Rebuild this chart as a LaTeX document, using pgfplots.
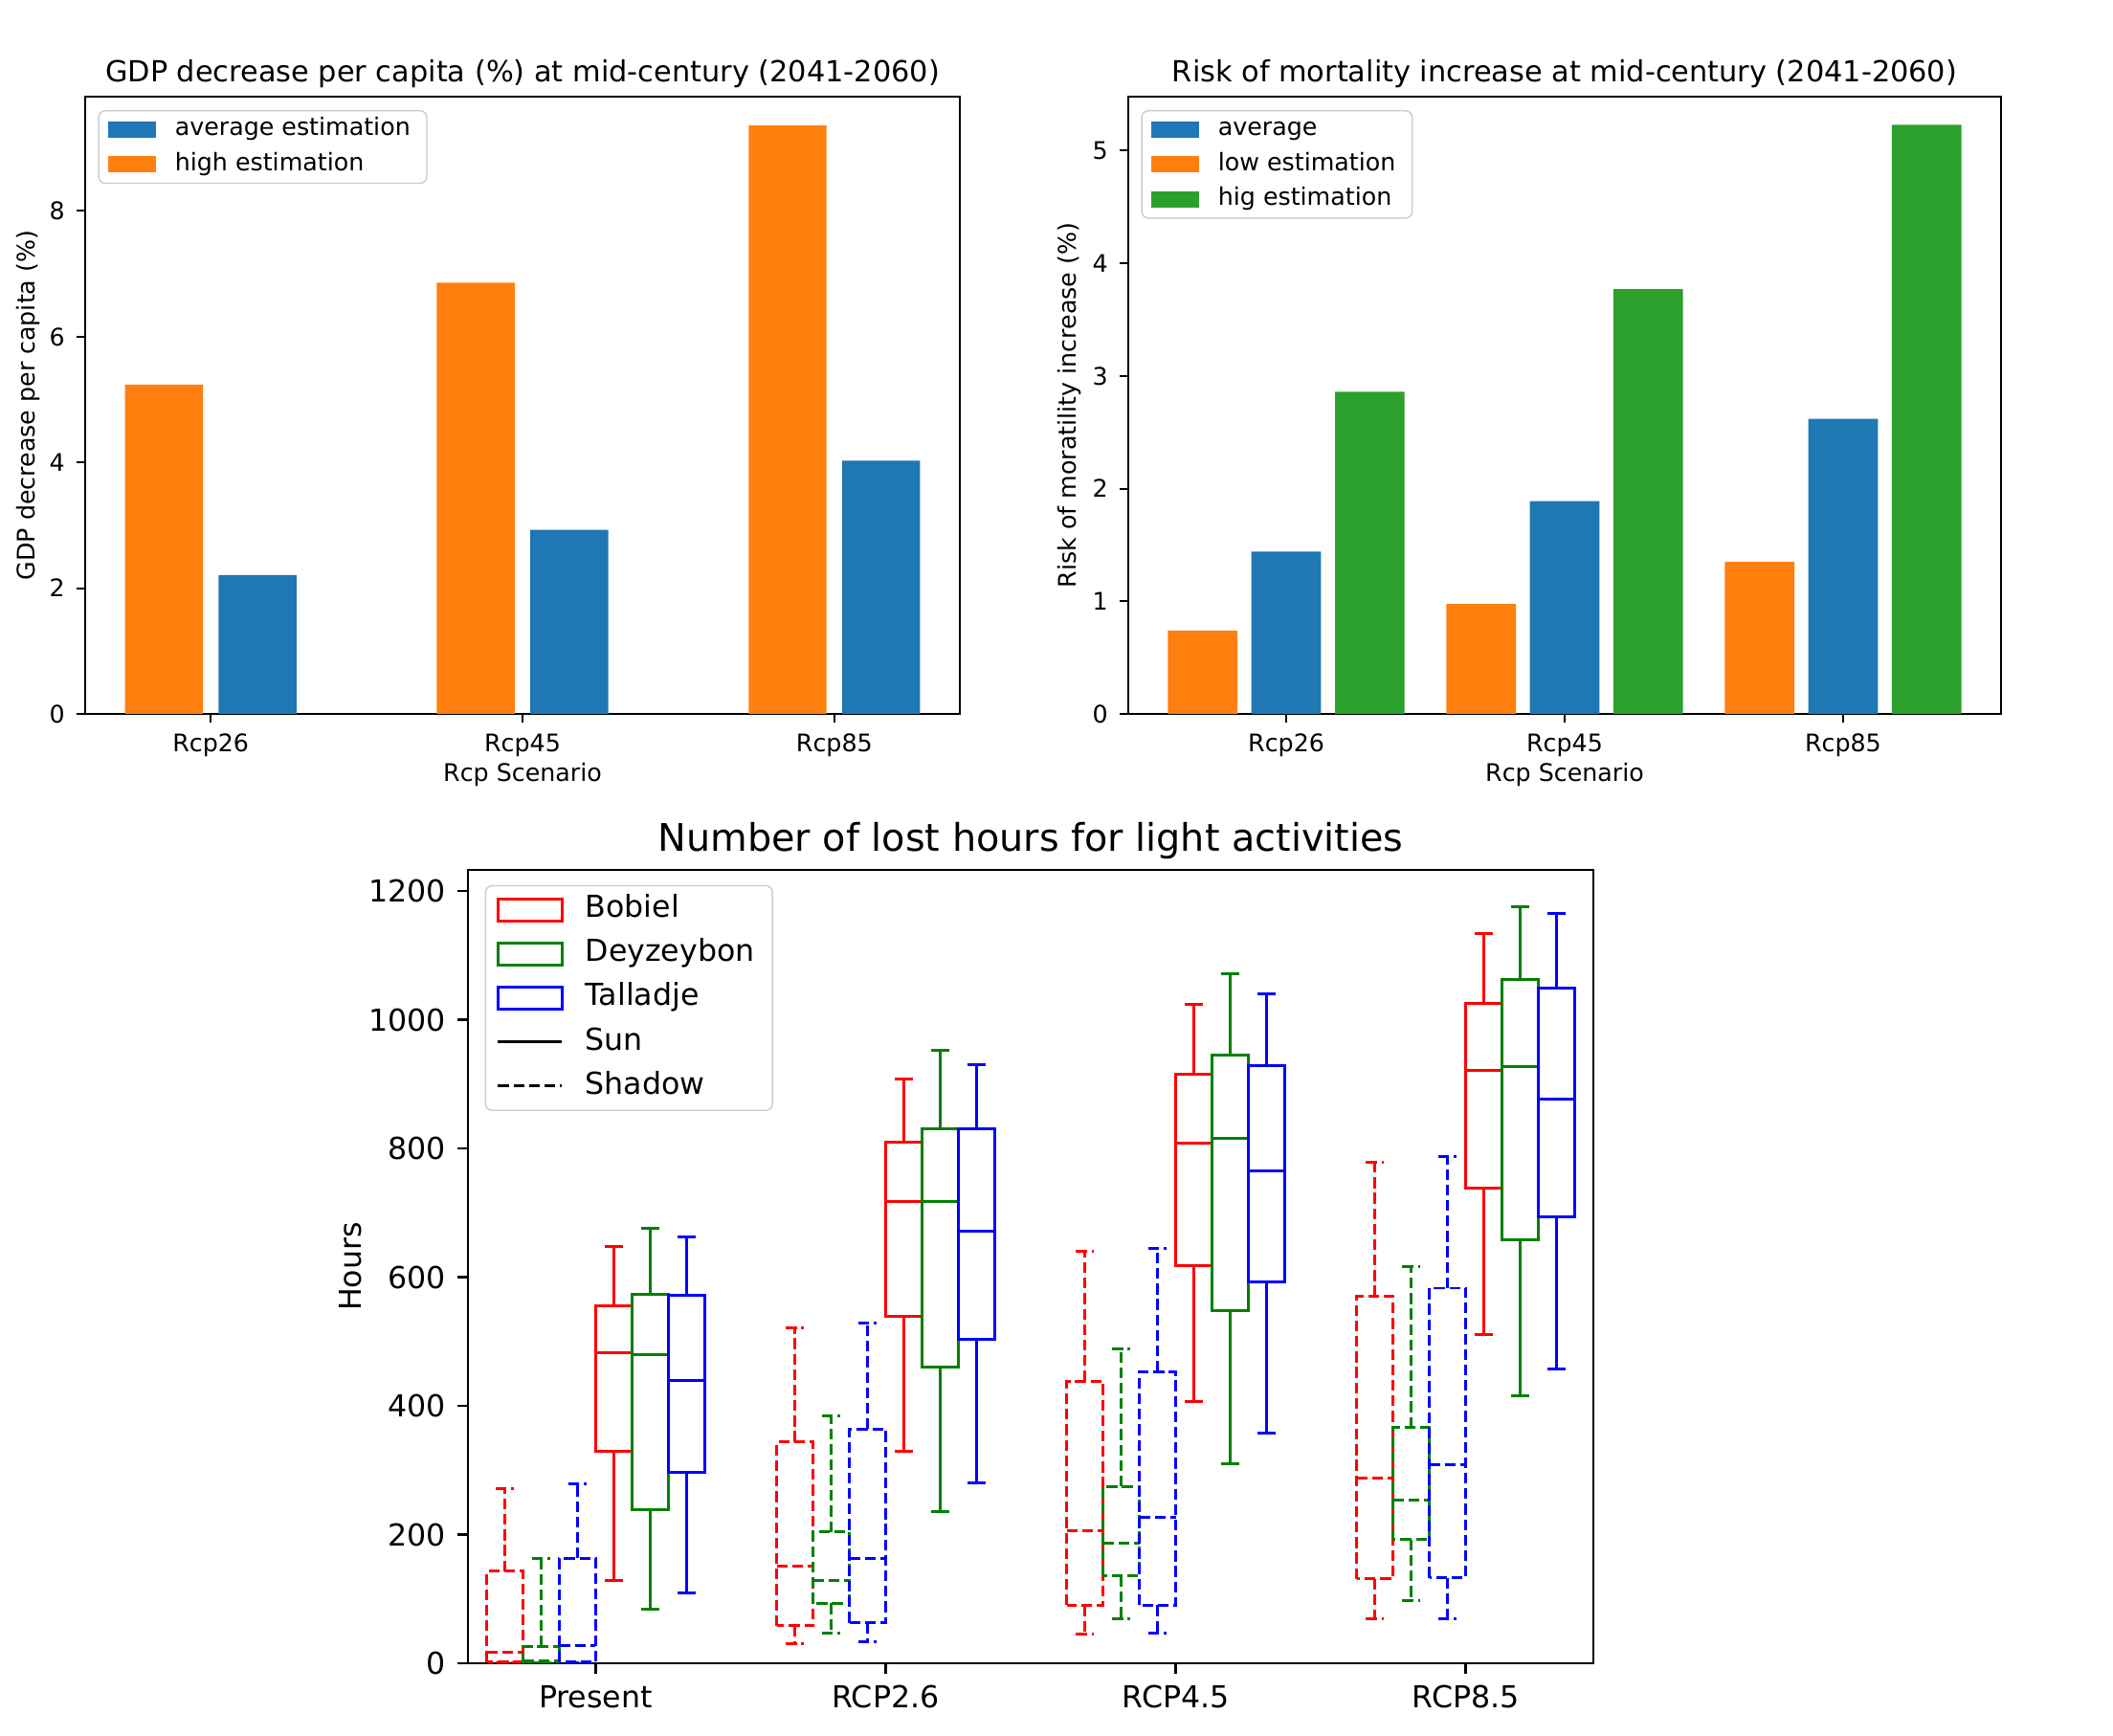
\documentclass[border=0pt]{standalone}
\usepackage{fontspec}
\setmainfont{DejaVu Sans}
\usepackage{pgfplots}
\pgfplotsset{compat=1.18}
\usepgfplotslibrary{statistics}
\definecolor{tabblue}{HTML}{1F77B4}
\definecolor{taborange}{HTML}{FF7F0E}
\definecolor{tabgreen}{HTML}{2CA02C}
\definecolor{mred}{HTML}{FF0000}
\definecolor{mgreen}{HTML}{008000}
\definecolor{mblue}{HTML}{0000FF}
\newcommand{\fsmall}{\fontsize{7.2}{8.6}\selectfont}
\newcommand{\fsmalltitle}{\fontsize{8.64}{10}\selectfont}
\newcommand{\fbig}{\fontsize{9}{10.8}\selectfont}
\newcommand{\fbigtitle}{\fontsize{11.3}{13}\selectfont}
\newcommand{\patch}[1]{\fill[#1, fill opacity=1, draw=none, sharp corners] (0pt,-2.45pt) rectangle (14.2pt,2.45pt); \node[inner sep=0pt, minimum size=0pt, draw=none, fill=none] at (17.6pt,0pt) {};}
\newcommand{\boxpatch}[1]{\draw[#1, draw opacity=1, line width=0.85pt, sharp corners, solid, fill=none] (0pt,-3.2pt) rectangle (19pt,3.2pt); \node[inner sep=0pt, minimum size=0pt, draw=none, fill=none] at (23.8pt,0pt) {};}
\pgfplotsset{
  topstyle/.style={
    anchor=south west, scale only axis,
    height=6.45cm, ymin=0,
    xtick={0,1,2}, xticklabels={Rcp26,Rcp45,Rcp85},
    tick align=outside, tick pos=left, major tick length=2.5pt,
    axis line style={line width=0.57pt},
    every tick/.style={black, line width=0.57pt},
    tick label style={font=\fsmall},
    label style={font=\fsmall},
    title style={font=\fsmalltitle, yshift=-6.8pt},
    xlabel style={yshift=5.2pt},
    /pgf/number format/assume math mode=true,
    xlabel={Rcp Scenario},
    legend cell align=left,
    legend style={at={(0,1)}, anchor=north west, xshift=3.8pt, yshift=-4pt,
      draw=black!20, rounded corners=2pt, fill=white, fill opacity=0.8, text opacity=1,
      font=\fsmall, inner xsep=2.9pt, inner ysep=2pt, row sep=3.16pt,
      nodes={inner ysep=0pt, text height=5.4pt, text depth=1.8pt}},
  },
}
\begin{document}
\begin{tikzpicture}
\useasboundingbox (0,0) rectangle (22.08cm,18.14cm);

% ---------------- top left ----------------
\begin{axis}[topstyle,
  at={(0.89cm,10.68cm)}, width=9.14cm,
  xmin=-0.4025, xmax=2.4025, ymax=9.82,
  ytick={0,2,4,6,8},
  title={GDP decrease per capita (\%) at mid-century (2041-2060)},
  ylabel={GDP decrease per capita (\%)},
  ylabel style={yshift=-4pt},
]
\addlegendimage{legend image code/.code={\patch{tabblue}}}
\addlegendentry{average estimation}
\addlegendimage{legend image code/.code={\patch{taborange}}}
\addlegendentry{high estimation}
\addplot[ybar, bar width=0.25, bar shift=0pt, fill=tabblue, draw=none, forget plot]
  coordinates {(0.15,2.21) (1.15,2.93) (2.15,4.03)};
\addplot[ybar, bar width=0.25, bar shift=0pt, fill=taborange, draw=none, forget plot]
  coordinates {(-0.15,5.24) (0.85,6.86) (1.85,9.36)};
\end{axis}

% ---------------- top right ----------------
\begin{axis}[topstyle,
  at={(11.79cm,10.68cm)}, width=9.12cm,
  xmin=-0.5675, xmax=2.5675, ymax=5.48,
  ytick={0,1,2,3,4,5},
  title={Risk of mortality increase at mid-century (2041-2060)},
  ylabel={Risk of moratility increase (\%)},
  ylabel style={yshift=-3.6pt},
]
\addlegendimage{legend image code/.code={\patch{tabblue}}}
\addlegendentry{average}
\addlegendimage{legend image code/.code={\patch{taborange}}}
\addlegendentry{low estimation}
\addlegendimage{legend image code/.code={\patch{tabgreen}}}
\addlegendentry{hig estimation}
\addplot[ybar, bar width=0.25, bar shift=0pt, fill=tabblue, draw=none, forget plot]
  coordinates {(0,1.44) (1,1.89) (2,2.62)};
\addplot[ybar, bar width=0.25, bar shift=0pt, fill=taborange, draw=none, forget plot]
  coordinates {(-0.3,0.74) (0.7,0.975) (1.7,1.35)};
\addplot[ybar, bar width=0.25, bar shift=0pt, fill=tabgreen, draw=none, forget plot]
  coordinates {(0.3,2.86) (1.3,3.77) (2.3,5.23)};
\end{axis}

% ---------------- bottom ----------------
\begin{axis}[
  at={(4.89cm,0.76cm)}, anchor=south west, scale only axis,
  width=11.76cm, height=8.29cm,
  xmin=-0.44, xmax=3.44, ymin=0, ymax=1233,
  xtick={0,1,2,3}, xticklabels={Present,RCP2.6,RCP4.5,RCP8.5},
  ytick={0,200,400,600,800,1000,1200},
  tick align=outside, tick pos=left, major tick length=3.1pt,
  axis line style={line width=0.7pt},
  every tick/.style={black, line width=0.7pt},
  tick label style={font=\fbig},
  label style={font=\fbig},
  title style={font=\fbigtitle, yshift=-6.4pt},
  ylabel style={yshift=-4.8pt},
  /pgf/number format/assume math mode=true,
  /pgf/number format/1000 sep={},
  title={Number of lost hours for light activities},
  ylabel={Hours},
  boxplot/draw direction=y,
  boxplot/box extend=0.125,
  boxplot/whisker extend=0.0625,
  sun/.style={line width=0.85pt, solid, forget plot},
  shd/.style={line width=0.85pt, dash pattern=on 3.2pt off 1.4pt, forget plot},
  legend cell align=left,
  legend style={at={(0,1)}, anchor=north west, xshift=5pt, yshift=-4.5pt,
    draw=black!20, rounded corners=2pt, fill=white, fill opacity=0.8, text opacity=1,
    font=\fbig, inner xsep=3.3pt, inner ysep=2.7pt, row sep=4.1pt,
    nodes={inner ysep=0pt, text height=6.8pt, text depth=2.2pt}},
]
\addlegendimage{legend image code/.code={\boxpatch{mred}}}
\addlegendentry{Bobiel}
\addlegendimage{legend image code/.code={\boxpatch{mgreen}}}
\addlegendentry{Deyzeybon}
\addlegendimage{legend image code/.code={\boxpatch{mblue}}}
\addlegendentry{Talladje}
\addlegendimage{legend image code/.code={\draw[black, draw opacity=1, line width=0.85pt, solid] (0pt,0pt) -- (19pt,0pt); \node[inner sep=0pt, minimum size=0pt, draw=none, fill=none] at (23.8pt,0pt) {};}}
\addlegendentry{Sun}
\addlegendimage{legend image code/.code={\draw[black, draw opacity=1, line width=0.85pt, dash pattern=on 3.2pt off 1.4pt] (0pt,0pt) -- (19pt,0pt); \node[inner sep=0pt, minimum size=0pt, draw=none, fill=none] at (23.8pt,0pt) {};}}
\addlegendentry{Shadow}

% Present
\addplot[mred, shd, boxplot prepared={draw position=-0.3125, lower whisker=0, lower quartile=2, median=17, upper quartile=143, upper whisker=272}] coordinates {};
\addplot[mgreen, shd, boxplot prepared={draw position=-0.1875, lower whisker=0, lower quartile=0, median=3, upper quartile=26, upper whisker=163}] coordinates {};
\addplot[mblue, shd, boxplot prepared={draw position=-0.0625, lower whisker=0, lower quartile=2, median=27, upper quartile=163, upper whisker=279}] coordinates {};
\addplot[mred, sun, boxplot prepared={draw position=0.0625, lower whisker=128, lower quartile=330, median=483, upper quartile=556, upper whisker=648}] coordinates {};
\addplot[mgreen, sun, boxplot prepared={draw position=0.1875, lower whisker=84, lower quartile=238, median=480, upper quartile=574, upper whisker=676}] coordinates {};
\addplot[mblue, sun, boxplot prepared={draw position=0.3125, lower whisker=109, lower quartile=297, median=439, upper quartile=572, upper whisker=662}] coordinates {};
% RCP2.6
\addplot[mred, shd, boxplot prepared={draw position=0.6875, lower whisker=31, lower quartile=58, median=151, upper quartile=344, upper whisker=522}] coordinates {};
\addplot[mgreen, shd, boxplot prepared={draw position=0.8125, lower whisker=47, lower quartile=93, median=129, upper quartile=204, upper whisker=385}] coordinates {};
\addplot[mblue, shd, boxplot prepared={draw position=0.9375, lower whisker=33, lower quartile=63, median=163, upper quartile=364, upper whisker=528}] coordinates {};
\addplot[mred, sun, boxplot prepared={draw position=1.0625, lower whisker=329, lower quartile=539, median=717, upper quartile=810, upper whisker=908}] coordinates {};
\addplot[mgreen, sun, boxplot prepared={draw position=1.1875, lower whisker=235, lower quartile=460, median=717, upper quartile=831, upper whisker=952}] coordinates {};
\addplot[mblue, sun, boxplot prepared={draw position=1.3125, lower whisker=281, lower quartile=503, median=671, upper quartile=831, upper whisker=930}] coordinates {};
% RCP4.5
\addplot[mred, shd, boxplot prepared={draw position=1.6875, lower whisker=45, lower quartile=90, median=206, upper quartile=438, upper whisker=641}] coordinates {};
\addplot[mgreen, shd, boxplot prepared={draw position=1.8125, lower whisker=69, lower quartile=136, median=186, upper quartile=275, upper whisker=489}] coordinates {};
\addplot[mblue, shd, boxplot prepared={draw position=1.9375, lower whisker=47, lower quartile=90, median=227, upper quartile=453, upper whisker=645}] coordinates {};
\addplot[mred, sun, boxplot prepared={draw position=2.0625, lower whisker=407, lower quartile=618, median=808, upper quartile=915, upper whisker=1024}] coordinates {};
\addplot[mgreen, sun, boxplot prepared={draw position=2.1875, lower whisker=310, lower quartile=548, median=816, upper quartile=945, upper whisker=1072}] coordinates {};
\addplot[mblue, sun, boxplot prepared={draw position=2.3125, lower whisker=358, lower quartile=593, median=765, upper quartile=929, upper whisker=1041}] coordinates {};
% RCP8.5
\addplot[mred, shd, boxplot prepared={draw position=2.6875, lower whisker=69, lower quartile=131, median=288, upper quartile=570, upper whisker=779}] coordinates {};
\addplot[mgreen, shd, boxplot prepared={draw position=2.8125, lower whisker=98, lower quartile=192, median=253, upper quartile=366, upper whisker=616}] coordinates {};
\addplot[mblue, shd, boxplot prepared={draw position=2.9375, lower whisker=69, lower quartile=133, median=308, upper quartile=583, upper whisker=787}] coordinates {};
\addplot[mred, sun, boxplot prepared={draw position=3.0625, lower whisker=511, lower quartile=739, median=922, upper quartile=1026, upper whisker=1134}] coordinates {};
\addplot[mgreen, sun, boxplot prepared={draw position=3.1875, lower whisker=415, lower quartile=658, median=928, upper quartile=1063, upper whisker=1176}] coordinates {};
\addplot[mblue, sun, boxplot prepared={draw position=3.3125, lower whisker=457, lower quartile=694, median=877, upper quartile=1049, upper whisker=1166}] coordinates {};
\end{axis}
\end{tikzpicture}
\end{document}
